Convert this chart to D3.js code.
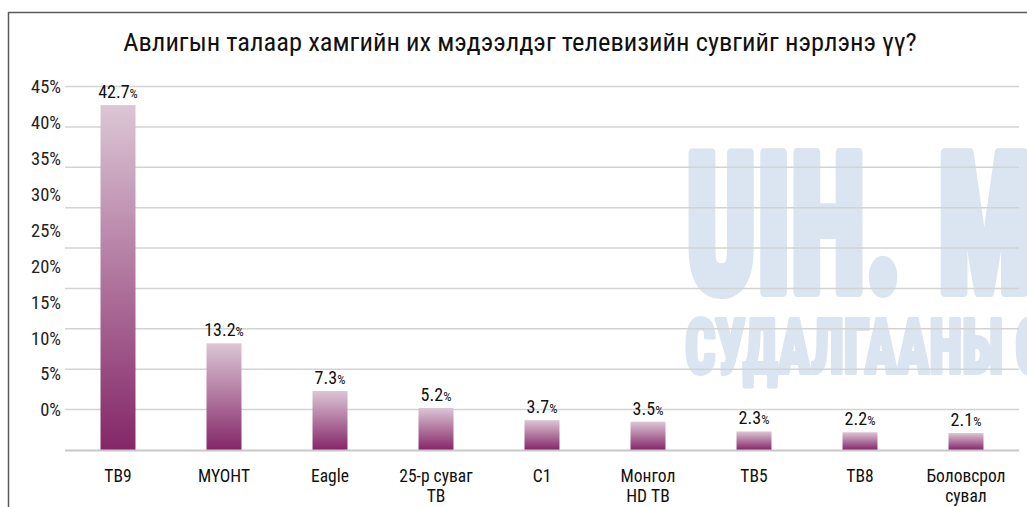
<!DOCTYPE html>
<html>
<head>
<meta charset="utf-8">
<script src="https://cdn.jsdelivr.net/npm/d3@7"></script>
<style>
  html, body { margin: 0; padding: 0; background: #fff; }
  svg { display: block; }
  text { font-family: "Liberation Sans Narrow", "Roboto Condensed", "DejaVu Sans Condensed", sans-serif; }
</style>
</head>
<body>
<svg id="chart" width="1027" height="507"></svg>
<script>
// ---- data ----
const title = "Авлигын талаар хамгийн их мэдээлдэг телевизийн сувгийг нэрлэнэ үү?";
const categories = ["ТВ9", "МҮОНТ", "Eagle", "25-р суваг\nТВ", "С1", "Монгол\nHD ТВ", "ТВ5", "ТВ8", "Боловсрол\nсувал"];
const values = [42.7, 13.2, 7.3, 5.2, 3.7, 3.5, 2.3, 2.2, 2.1];
const tickValues = [0, 5, 10, 15, 20, 25, 30, 35, 40, 45];
const tickLabels = ["0%", "5%", "10%", "15%", "20%", "25%", "30%", "35%", "40%", "45%"];
const watermark1 = ["UIH.", "MN"];
const watermark2 = ["СУДАЛГААНЫ", " СТУДИ"];

// ---- layout ----
const svg = d3.select("#chart");
const W = 1027, H = 507;
const plotLeft = 65, plotRight = 1019, plotTop = 86.5, plotBottom = 450;

const x = d3.scaleBand().domain(categories).range([plotLeft, plotRight])
  .paddingInner(0.67).paddingOuter(0.335);
const y = d3.scaleLinear().domain([0, 45]).range([plotBottom, plotTop]);
// tick labels are laid out on their own (compressed) scale, as in the source
const yLab = d3.scaleLinear().domain([0, 45]).range([410, 86.5]);

// gradient
const defs = svg.append("defs");
const grad = defs.append("linearGradient").attr("id", "barGrad")
  .attr("x1", 0).attr("y1", 0).attr("x2", 0).attr("y2", 1);
grad.append("stop").attr("offset", "0%").attr("stop-color", "#dcc6d5");
grad.append("stop").attr("offset", "100%").attr("stop-color", "#842668");

// frame
svg.append("line").attr("x1", 8.5).attr("x2", 8.5).attr("y1", 12).attr("y2", H).attr("stroke", "#5a5a5a").attr("stroke-width", 1.5);
svg.append("line").attr("x1", 8).attr("x2", W).attr("y1", 12.5).attr("y2", 12.5).attr("stroke", "#5a5a5a").attr("stroke-width", 1.5);

// watermark (one text per line, horizontally compressed to fit)
function watermark(parts, x0, baseline, size, firstWidth, gap, strokeW) {
  const t = svg.append("text")
    .attr("font-family", "Roboto, 'Liberation Sans', sans-serif")
    .attr("font-weight", 900).attr("font-size", size)
    .attr("fill", "#dbe5f1").attr("stroke", "#dbe5f1").attr("stroke-width", strokeW)
    .attr("stroke-linejoin", "round");
  t.append("tspan").attr("x", 0).attr("y", 0).text(parts[0]);
  const second = t.append("tspan").text(parts[1]);
  const L = t.node().getSubStringLength(0, parts[0].length);
  const sx = firstWidth / L;
  second.attr("dx", gap / sx);
  t.attr("transform", `translate(${x0},${baseline}) scale(${sx},1)`);
  return t;
}
watermark(watermark1, 686, 292, 194, 216, 36, 10);
watermark(watermark2, 685, 373, 76, 318, 0, 4);

// title
svg.append("text").attr("x", 520).attr("y", 51).attr("text-anchor", "middle")
  .attr("font-size", 26.5).attr("fill", "#111").text(title);

// gridlines
svg.append("g").selectAll("line").data(tickValues.filter(d => d > 0)).join("line")
  .attr("x1", plotLeft).attr("x2", plotRight)
  .attr("y1", d => y(d)).attr("y2", d => y(d))
  .attr("stroke", "#d3d3d3").attr("stroke-width", 1.5);

// y tick labels (axis)
const yAxis = d3.axisLeft(yLab).tickValues(tickValues)
  .tickFormat((d, i) => tickLabels[i]).tickSize(0).tickPadding(0);
const ga = svg.append("g").attr("transform", "translate(61,0)").call(yAxis);
ga.select(".domain").remove();
ga.selectAll("text").attr("font-size", 18.5).attr("fill", "#222")
  .style("font-family", '"Liberation Sans Narrow", "Roboto Condensed", sans-serif');

// bars
svg.append("g").selectAll("rect").data(values).join("rect")
  .attr("x", (d, i) => x(categories[i]))
  .attr("width", x.bandwidth())
  .attr("y", d => y(d))
  .attr("height", d => y(0) - y(d))
  .attr("fill", "url(#barGrad)");

// baseline
svg.append("line").attr("x1", plotLeft).attr("x2", plotRight)
  .attr("y1", y(0) + 0.5).attr("y2", y(0) + 0.5)
  .attr("stroke", "#c8c8c8").attr("stroke-width", 2);

// value labels
const vl = svg.append("g").selectAll("text").data(values).join("text")
  .attr("x", (d, i) => x(categories[i]) + x.bandwidth() / 2)
  .attr("y", d => y(d) - 7)
  .attr("text-anchor", "middle").attr("fill", "#111");
vl.append("tspan").attr("font-size", 18).text(d => d.toFixed(1));
vl.append("tspan").attr("font-size", 13).text("%");

// category labels
const xAxis = d3.axisBottom(x).tickSize(0).tickFormat("");
const gx = svg.append("g").attr("transform", `translate(0,${plotBottom})`).call(xAxis);
gx.select(".domain").remove();
const cl = svg.append("g").selectAll("text").data(categories).join("text")
  .attr("x", d => x(d) + x.bandwidth() / 2)
  .attr("y", 482).attr("text-anchor", "middle")
  .attr("font-size", 17.5).attr("fill", "#111");
cl.selectAll("tspan").data(d => d.split("\n")).join("tspan")
  .attr("x", function () { return d3.select(this.parentNode).attr("x"); })
  .attr("dy", (d, i) => i === 0 ? 0 : 20)
  .text(d => d);
</script>
</body>
</html>
